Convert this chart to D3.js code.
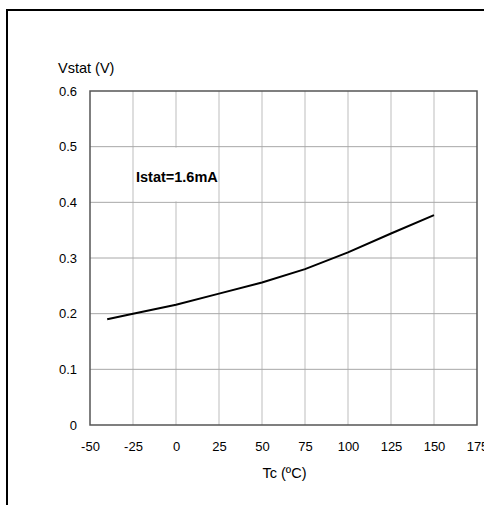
<!DOCTYPE html>
<html><head><meta charset="utf-8">
<script src="https://cdn.jsdelivr.net/npm/d3@7"></script>
<style>html,body{margin:0;padding:0;background:#fff;overflow:hidden}svg{display:block}</style>
</head><body>
<script>
const tempC = [-40, -25, 0, 25, 50, 75, 100, 125, 150];
const vstat = [0.190, 0.200, 0.216, 0.236, 0.256, 0.280, 0.310, 0.344, 0.377];
const xTicks = [-50, -25, 0, 25, 50, 75, 100, 125, 150, 175];
const yTicks = [0, 0.1, 0.2, 0.3, 0.4, 0.5, 0.6];
const yLabel = "Vstat (V)";
const xLabel = "Tc (ºC)";
const note = "Istat=1.6mA";

const W = 484, H = 505;
const m = {left: 90, right: 477, top: 91, bottom: 425};
const svg = d3.select("body").append("svg").attr("width", W).attr("height", H);
const font = "Liberation Sans, Arial, sans-serif";

// outer frame
svg.append("path").attr("d", `M7,${H} V10 H${W}`).attr("fill","none").attr("stroke","#000").attr("stroke-width",2);

const x = d3.scaleLinear().domain([-50, 175]).range([m.left, m.right]);
const y = d3.scaleLinear().domain([0, 0.6]).range([m.bottom, m.top]);

const g = svg.append("g");
// grid
g.selectAll(".vg").data(xTicks.slice(1, -1)).join("line")
  .attr("x1", d => x(d)).attr("x2", d => x(d)).attr("y1", m.top).attr("y2", m.bottom)
  .attr("stroke", "#bdbdbd").attr("stroke-width", 1);
g.selectAll(".hg").data(yTicks.slice(1, -1)).join("line")
  .attr("x1", m.left).attr("x2", m.right).attr("y1", d => y(d)).attr("y2", d => y(d))
  .attr("stroke", "#a8a8a8").attr("stroke-width", 1);

// note box
const nb = g.append("g");
nb.append("rect").attr("x", x(-25)+1).attr("y", y(0.5)+1).attr("width", x(25)-x(-25)-2).attr("height", y(0.4)-y(0.5)-2).attr("fill","#fff");
nb.append("text").attr("x", x(-25)+3).attr("y", 182).attr("font-family", font).attr("font-size", 14.5).attr("font-weight","bold").text(note);

// border
g.append("rect").attr("x", m.left).attr("y", m.top).attr("width", m.right-m.left).attr("height", m.bottom-m.top)
  .attr("fill","none").attr("stroke","#555").attr("stroke-width",1.5);

// line
g.append("path").datum(tempC.map((t,i)=>[t, vstat[i]]))
  .attr("d", d3.line().x(d=>x(d[0])).y(d=>y(d[1])))
  .attr("fill","none").attr("stroke","#000").attr("stroke-width",2);

// axes labels
const yAxis = d3.axisLeft(y).tickValues(yTicks).tickSize(0).tickPadding(13).tickFormat(d => d === 0 ? "0" : d3.format(".1f")(d));
const ya = svg.append("g").attr("transform", `translate(${m.left},0)`).call(yAxis);
ya.select(".domain").remove();
ya.selectAll("text").attr("font-family", font).attr("font-size", 13).attr("fill","#000");

const xAxis = d3.axisBottom(x).tickValues(xTicks).tickSize(0).tickPadding(17).tickFormat(d => String(d));
const xa = svg.append("g").attr("transform", `translate(0,${m.bottom})`).call(xAxis);
xa.select(".domain").remove();
xa.selectAll("text").attr("font-family", font).attr("font-size", 13).attr("fill","#000");

svg.append("text").attr("x", 58).attr("y", 73).attr("font-family", font).attr("font-size", 14.5).text(yLabel);
svg.append("text").attr("x", x(62.5)+1).attr("y", 478).attr("text-anchor","middle").attr("font-family", font).attr("font-size", 14.5).text(xLabel);
</script>
</body></html>
